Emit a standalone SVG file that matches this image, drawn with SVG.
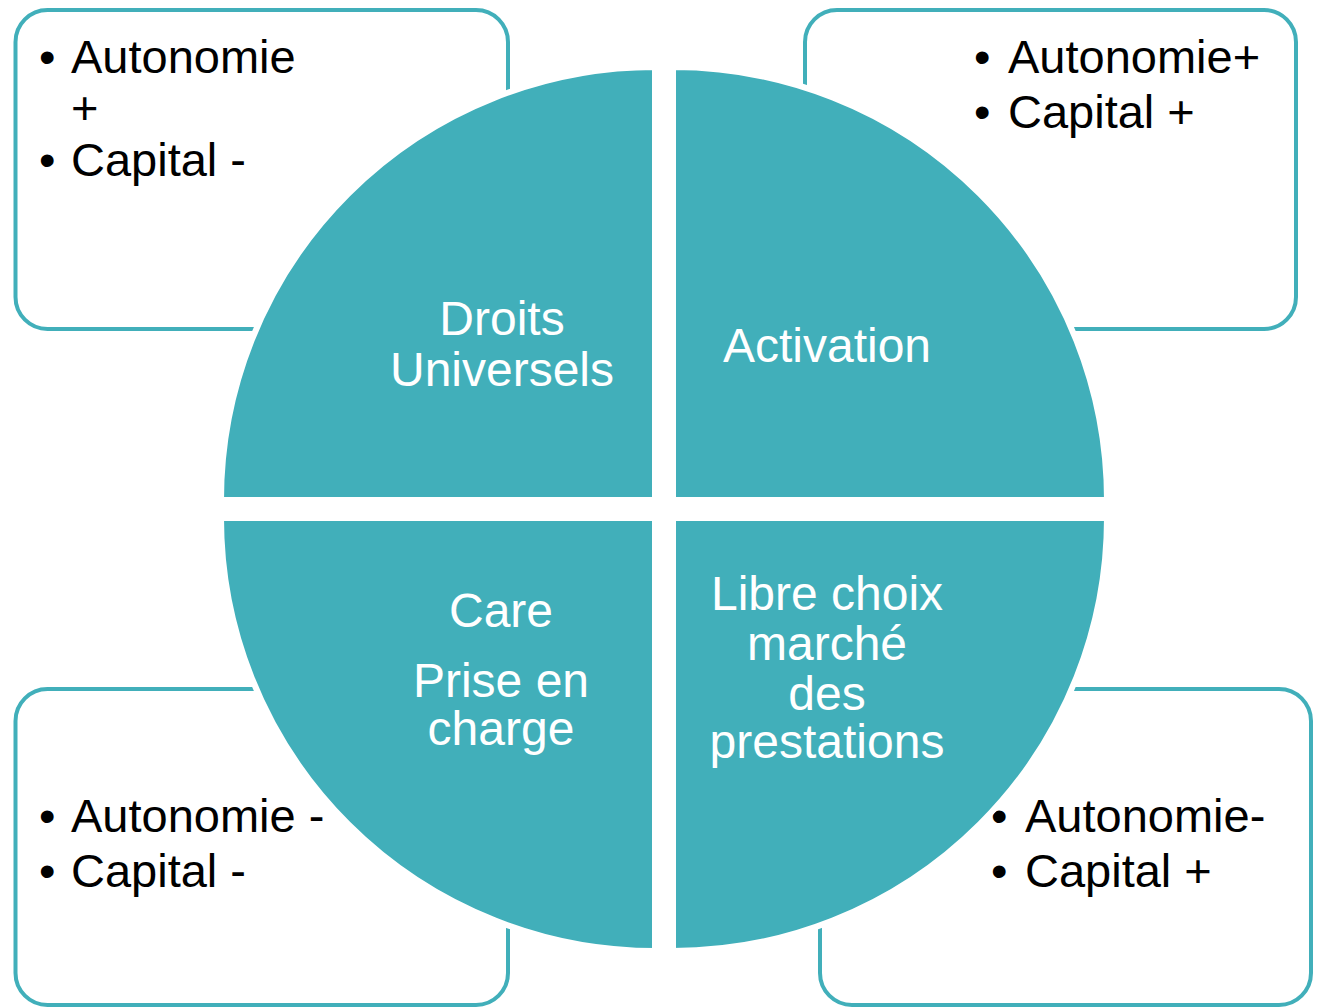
<svg xmlns="http://www.w3.org/2000/svg" width="1317" height="1007" viewBox="0 0 1317 1007">
<style>
.box{fill:#ffffff;stroke:#41afba;stroke-width:4}
.quad{fill:#41afba;stroke:#ffffff;stroke-width:6}
.dark{font-family:"Liberation Sans",Arial,sans-serif;font-size:47px;fill:#000000}
.light{font-family:"Liberation Sans",Arial,sans-serif;font-size:48px;fill:#ffffff;text-anchor:middle}
</style>
<rect width="1317" height="1007" fill="#ffffff"/>
<g id="box-tl">
<rect class="box" x="15.5" y="10" width="492.5" height="319" rx="32"/>
<text class="dark" x="39" y="73">•</text><text class="dark" x="71" y="73">Autonomie</text>
<text class="dark" x="71" y="124">+</text>
<text class="dark" x="39" y="176">•</text><text class="dark" x="71" y="176">Capital -</text>
</g>
<g id="box-tr">
<rect class="box" x="805" y="10" width="491" height="319" rx="32"/>
<text class="dark" x="974" y="73">•</text><text class="dark" x="1008" y="73">Autonomie+</text>
<text class="dark" x="974" y="128">•</text><text class="dark" x="1008" y="128">Capital +</text>
</g>
<g id="box-bl">
<rect class="box" x="15.5" y="689" width="492.5" height="316" rx="32"/>
<text class="dark" x="39" y="832">•</text><text class="dark" x="71" y="832">Autonomie -</text>
<text class="dark" x="39" y="887">•</text><text class="dark" x="71" y="887">Capital -</text>
</g>
<g id="box-br">
<rect class="box" x="820" y="689" width="491" height="316" rx="32"/>
<text class="dark" x="991" y="832">•</text><text class="dark" x="1025" y="832">Autonomie-</text>
<text class="dark" x="991" y="887">•</text><text class="dark" x="1025" y="887">Capital +</text>
</g>
<g id="quad-tl">
<path class="quad" d="M655,500 L221,500 A434,433 0 0 1 655,67 Z"/>
<text class="light" x="502" y="335">Droits</text>
<text class="light" x="502" y="386">Universels</text>
</g>
<g id="quad-tr">
<path class="quad" d="M673,500 L673,67 A434,433 0 0 1 1107,500 Z"/>
<text class="light" x="827" y="362">Activation</text>
</g>
<g id="quad-bl">
<path class="quad" d="M655,518 L655,951 A434,433 0 0 1 221,518 Z"/>
<text class="light" x="501" y="627">Care</text>
<text class="light" x="501" y="697">Prise en</text>
<text class="light" x="501" y="745">charge</text>
</g>
<g id="quad-br">
<path class="quad" d="M673,518 L1107,518 A434,433 0 0 1 673,951 Z"/>
<text class="light" x="827" y="610">Libre choix</text>
<text class="light" x="827" y="660">marché</text>
<text class="light" x="827" y="710">des</text>
<text class="light" x="827" y="758">prestations</text>
</g>
<g id="connectors"></g>
</svg>
